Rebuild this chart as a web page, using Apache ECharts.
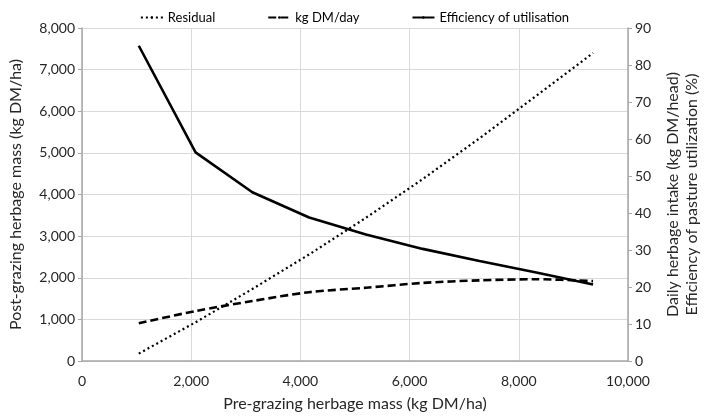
<!DOCTYPE html>
<html><head><meta charset="utf-8">
<script src="https://cdn.jsdelivr.net/npm/echarts@6/dist/echarts.min.js"></script>
<style>html,body{margin:0;padding:0;background:#fff}#c{width:709px;height:417px}</style>
</head><body><div id="c"></div>
<script>
const preMass = [1040, 2080, 3120, 4160, 5200, 6240, 7280, 8320, 9360];
const residual = [178, 930, 1730, 2560, 3440, 4370, 5350, 6370, 7400];
const intake = [10.2, 13.5, 16.2, 18.6, 19.8, 21.1, 21.8, 22.1, 21.6];
const efficiency = [85.2, 56.4, 45.6, 38.8, 34.2, 30.3, 27.0, 23.9, 20.7];
const xTicks = [0, 2000, 4000, 6000, 8000, 10000];

const F = 'Lato, "Open Sans", sans-serif';
const fmt = v => v.toLocaleString('en-US');
const pair = arr => preMass.map((x, i) => [x, arr[i]]);
const chart = echarts.init(document.getElementById('c'));
chart.setOption({
  animation: false,
  textStyle: { fontFamily: F },
  legend: {
    top: 6, left: 'center', itemGap: 52, itemWidth: 22, itemHeight: 3,
    textStyle: { fontSize: 13, color: '#000', fontFamily: F },
    data: ['Residual', 'kg DM/day', 'Efficiency of utilisation']
  },
  grid: { left: 76, right: 80, top: 28, bottom: 55 },
  xAxis: {
    type: 'value', min: 0, max: 10000, interval: 2000,
    name: 'Pre-grazing herbage mass (kg DM/ha)', nameLocation: 'middle', nameGap: 35,
    nameTextStyle: { fontSize: 16, color: '#262626', fontFamily: F },
    axisLine: { show: true, lineStyle: { color: '#a6a6a6', width: 1.5 } },
    axisTick: { show: false },
    axisLabel: { fontSize: 14, color: '#262626', margin: 13, formatter: fmt },
    splitLine: { show: true, lineStyle: { color: '#d9d9d9', width: 1 } }
  },
  yAxis: [{
    type: 'value', min: 0, max: 8000, interval: 1000,
    name: 'Post-grazing herbage mass (kg DM/ha)', nameLocation: 'middle', nameGap: 58, nameRotate: 90,
    nameTextStyle: { fontSize: 16, color: '#262626', fontFamily: F },
    axisLine: { show: true, lineStyle: { color: '#a6a6a6', width: 1.5 } },
    axisTick: { show: true, length: 4, lineStyle: { color: '#a6a6a6' } },
    axisLabel: { fontSize: 14, color: '#262626', margin: 7, formatter: fmt },
    splitLine: { show: true, lineStyle: { color: '#d9d9d9', width: 1 } }
  }, {
    type: 'value', min: 0, max: 90, interval: 10, position: 'right',
    name: 'Daily herbage intake (kg DM/head)\nEfficiency of pasture utilization (%)',
    nameLocation: 'middle', nameGap: 35, nameRotate: 90,
    nameTextStyle: { fontSize: 16, color: '#262626', lineHeight: 19, fontFamily: F },
    axisLine: { show: true, lineStyle: { color: '#a6a6a6', width: 1.5 } },
    axisTick: { show: true, length: 4, lineStyle: { color: '#a6a6a6' } },
    axisLabel: { fontSize: 14, color: '#262626', margin: 7 },
    splitLine: { show: false }
  }],
  series: [{
    name: 'Residual', type: 'line', yAxisIndex: 0, data: pair(residual),
    symbol: 'none', lineStyle: { color: '#000', width: 2.2, type: [2, 3] }, itemStyle: { color: '#000' }
  }, {
    name: 'kg DM/day', type: 'line', yAxisIndex: 1, data: pair(intake), smooth: 0.3,
    symbol: 'none', lineStyle: { color: '#000', width: 2.6, type: [8, 4] }, itemStyle: { color: '#000' }
  }, {
    name: 'Efficiency of utilisation', type: 'line', yAxisIndex: 1, data: pair(efficiency),
    symbol: 'none', lineStyle: { color: '#000', width: 2.6 }, itemStyle: { color: '#000' }
  }]
});
</script></body></html>
